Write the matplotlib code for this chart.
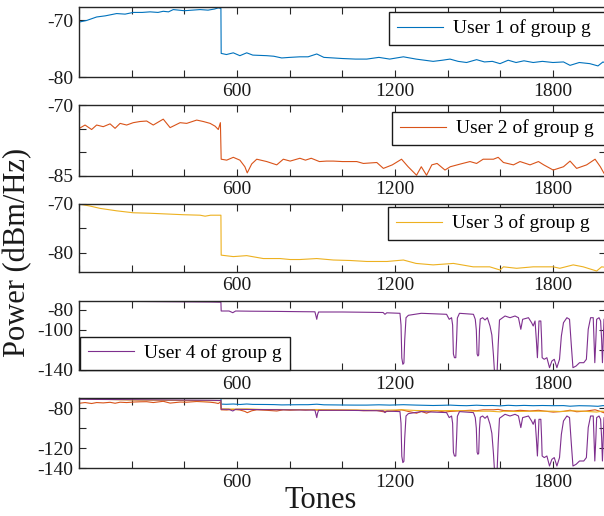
import matplotlib
matplotlib.use("Agg")
import matplotlib.pyplot as plt

plt.rcParams['font.family'] = ['Liberation Serif', 'DejaVu Serif']

# ---------------- data ----------------
tones_u1 = [0, 30, 67, 100, 143, 175, 206, 240, 270, 300, 320, 340, 358, 400, 430, 460, 490, 515, 529, 539,
            540, 560, 586, 611, 637, 660, 713, 740, 770, 800, 839, 870, 903, 930, 966, 1000, 1050, 1093,
            1139, 1180, 1232, 1280, 1345, 1380, 1409, 1440, 1472, 1510, 1540, 1570, 1599, 1630, 1660,
            1690, 1725, 1760, 1800, 1840, 1865, 1900, 1940, 1971, 1990, 2000]
power_u1 = [-70.3, -70.0, -69.4, -69.2, -68.8, -68.9, -68.6, -68.6, -68.5, -68.6, -68.4, -68.5, -68.1, -68.3,
            -68.2, -68.1, -68.2, -68.0, -67.8, -67.9,
            -75.8, -76.0, -75.7, -76.2, -75.7, -76.1, -76.2, -76.3, -76.6, -76.5, -76.4, -76.4, -75.9, -76.5,
            -76.6, -76.7, -76.8, -76.8, -76.5, -76.8, -76.4, -76.8, -77.2, -77.0, -76.8, -77.2, -77.4, -76.9,
            -77.3, -77.2, -77.6, -77.0, -77.4, -77.1, -77.4, -77.2, -77.4, -77.3, -77.9, -77.4, -77.6, -78.0,
            -77.3, -77.5]

tones_u2 = [0, 23, 48, 67, 92, 118, 137, 156, 181, 206, 232, 257, 282, 320, 346, 384, 409, 447, 472, 498, 517,
            529, 537, 540, 561, 586, 611, 630, 639, 656, 675, 713, 751, 776, 802, 839, 860, 882, 913, 940, 966,
            1000, 1055, 1080, 1131, 1156, 1190, 1225, 1250, 1282, 1300, 1320, 1340, 1360, 1390, 1410, 1450,
            1485, 1510, 1535, 1574, 1592, 1612, 1650, 1675, 1713, 1745, 1765, 1801, 1840, 1865, 1890, 1928,
            1960, 1980, 1994, 2000]
power_u2 = [-75.0, -74.25, -75.2, -74.25, -74.6, -74.0, -74.95, -73.9, -74.25, -73.75, -73.5, -73.4, -74.25,
            -73.0, -74.8, -73.75, -73.9, -73.2, -73.5, -73.9, -74.5, -75.2, -73.75,
            -81.5, -81.7, -81.1, -81.7, -83.1, -84.4, -82.5, -81.5, -82.0, -82.7, -81.5, -81.9, -81.3, -81.7,
            -81.3, -82.0, -81.9, -81.9, -82.0, -82.0, -82.4, -82.2, -83.45, -82.7, -81.5, -83.1, -84.9, -83.1,
            -84.9, -82.7, -82.4, -83.8, -83.1, -82.5, -82.0, -82.4, -81.5, -81.5, -81.1, -82.2, -82.7, -82.0,
            -82.7, -82.0, -82.7, -83.8, -83.1, -81.9, -83.45, -82.7, -81.5, -83.1, -84.5, -84.5]

tones_u3 = [0, 40, 80, 143, 206, 270, 333, 396, 460, 479, 500, 539,
            540, 586, 637, 700, 764, 802, 839, 903, 966, 1030, 1093, 1170, 1232, 1280, 1345, 1422, 1497,
            1560, 1599, 1612, 1662, 1725, 1801, 1826, 1877, 1915, 1966, 1985, 2000]
power_u3 = [-70.0, -70.4, -70.9, -71.4, -71.8, -71.9, -72.05, -72.2, -72.3, -72.5, -72.3, -72.3,
            -80.5, -80.8, -80.6, -81.2, -81.2, -81.4, -81.4, -81.2, -81.5, -81.6, -81.8, -81.8, -81.5, -82.2,
            -82.5, -82.2, -82.9, -82.9, -83.55, -82.9, -83.2, -82.9, -82.9, -83.2, -82.5, -82.9, -83.76,
            -82.9, -83.0]

tones_u4 = [0, 100, 200, 300, 400, 500, 539, 540, 570, 584, 595, 650, 750, 850, 896, 900, 903, 906, 910,
            1000, 1100, 1155, 1162, 1169, 1219, 1223, 1226, 1230, 1234, 1237, 1242, 1251, 1300, 1396, 1406,
            1415, 1419, 1422, 1426, 1431, 1434, 1437, 1445, 1498, 1505, 1509, 1512, 1515, 1518, 1521, 1524,
            1533, 1542, 1551, 1561, 1568, 1574, 1578, 1588, 1592, 1597, 1618, 1637, 1656, 1669, 1678, 1685,
            1707, 1719, 1725, 1732, 1737, 1741, 1744, 1747, 1754, 1757, 1759, 1767, 1777, 1787, 1796, 1805,
            1815, 1825, 1832, 1840, 1853, 1863, 1870, 1876, 1888, 1901, 1917, 1927, 1934, 1943, 1953, 1956,
            1959, 1963, 1966, 1975, 1981, 1985, 1988, 1991, 1994, 2000]
power_u4 = [-71.0, -71.2, -71.4, -71.6, -71.8, -72.0, -72.2, -81.0, -81.0, -82.7, -81.0, -81.2, -81.4,
            -81.7, -81.8, -86.0, -89.3, -85.0, -82.0,
            -82.0, -82.3, -82.5, -84.3, -82.8, -83.3, -95.0, -128.0, -134.3, -133.0, -110.0, -87.7, -85.3,
            -83.3, -84.3, -89.3,
            -87.7, -95.0, -124.0, -127.7, -127.7, -110.0, -88.0, -83.3, -84.3, -89.3, -100.0, -124.0, -126.0,
            -125.0, -100.0, -89.0,
            -87.7, -90.0, -87.7, -96.0, -105.0, -125.0, -142.0, -142.0, -115.0, -90.0, -86.0, -87.7, -86.0,
            -87.7, -99.3, -89.3,
            -87.7, -92.7, -96.0, -91.0, -110.0, -127.7, -110.0, -91.0, -91.0, -110.0, -127.7, -129.3, -127.7,
            -137.7, -131.0, -129.3,
            -137.7, -129.3, -106.0, -92.7, -87.7, -89.3, -116.0, -137.7, -136.0, -132.7, -132.7, -129.3,
            -99.3, -87.7, -87.7, -110.0,
            -132.7, -110.0, -89.3, -87.7, -91.0, -110.0, -132.7, -110.0, -89.3, -87.7]

labels = ['User 1 of group g', 'User 2 of group g', 'User 3 of group g', 'User 4 of group g']
colors = ['#0072BD', '#D95319', '#EDB120', '#7E2F8E']
xticks = [0, 200, 400, 600, 800, 1000, 1200, 1400, 1600, 1800, 2000]
xticklabels = ['', '', '', '600', '', '', '1200', '', '', '1800', '']

panel_yticks = [[-80, -70], [-85, -80, -75, -70], [-80, -75, -70],
                [-140, -120, -100, -80], [-140, -120, -100, -80]]
panel_yticklabels = [['-80', '-70'], ['-85', '', '', '-70'], ['-80', '', '-70'],
                     ['-140', '', '-100', '-80'], ['-140', '-120', '', '-80']]
panel_ylims = [(-80, -67.7), (-85, -70), (-83.9, -70), (-140, -70.7), (-140, -70)]

# ---------------- layout ----------------
W, H = 604, 516
fig = plt.figure(figsize=(W / 100, H / 100), dpi=100)
px_rows = [(7.3, 77.3), (105, 175.7), (204, 271.7), (300.7, 370), (398.3, 468.3)]
left_px, right_px = 79, 605.6
axcol = '#262626'

series = [(tones_u1, power_u1), (tones_u2, power_u2), (tones_u3, power_u3), (tones_u4, power_u4)]
# legend boxes in pixels: (left, top, right, bottom)
legend_box = [(389, 11.7, 620, 46), (392, 111.7, 620, 145.7), (388, 206.7, 620, 242.3), None]

axes = []
for i, (top, bot) in enumerate(px_rows):
    ax = fig.add_axes([left_px / W, 1 - bot / H, (right_px - left_px) / W, (bot - top) / H])
    axes.append(ax)
    if i < 4:
        t, p = series[i]
        ax.plot(t, p, color=colors[i], lw=0.8, label=labels[i])
    else:
        for k, (t, p) in enumerate(series):
            ax.plot(t, p, color=colors[k], lw=0.8)
    ax.set_xlim(0, 2000)
    ax.set_ylim(*panel_ylims[i])
    ax.set_xticks(xticks)
    ax.set_xticklabels(xticklabels)
    ax.set_yticks(panel_yticks[i])
    ax.set_yticklabels(panel_yticklabels[i])
    ax.tick_params(direction='in', length=5, width=0.8, top=True, right=True,
                   labelsize=14, pad=4, colors=axcol, labelcolor='#1a1a1a')
    for s in ax.spines.values():
        s.set_linewidth(1.0)
        s.set_color(axcol)
    common = dict(fontsize=14, frameon=True, fancybox=False, framealpha=1, edgecolor='#1a1a1a',
                  handlelength=2.4, handletextpad=0.5, borderpad=0.4, borderaxespad=0)
    if i < 3:
        l, t_, r, b = legend_box[i]
        x0 = (l - left_px) / (right_px - left_px)
        y0 = (bot - b) / (bot - top)
        w = (r - l) / (right_px - left_px)
        h = (b - t_) / (bot - top)
        leg = ax.legend(loc='upper left', bbox_to_anchor=(x0, y0, w, h), mode='expand', **common)
        leg.get_frame().set_linewidth(1.0)
    elif i == 3:
        x0 = (80 - left_px) / (right_px - left_px)
        leg = ax.legend(loc='lower left', bbox_to_anchor=(x0, 0), **common)
        leg.get_frame().set_linewidth(1.0)

fig.text(18 / W, 1 - 252 / H, 'Power (dBm/Hz)', rotation=90, ha='center', va='center',
         fontsize=22, color='#1a1a1a')
fig.text(321 / W, 1 - 508.5 / H, 'Tones', ha='center', va='baseline', fontsize=22, color='#1a1a1a')

fig.savefig('out.png', dpi=100)
